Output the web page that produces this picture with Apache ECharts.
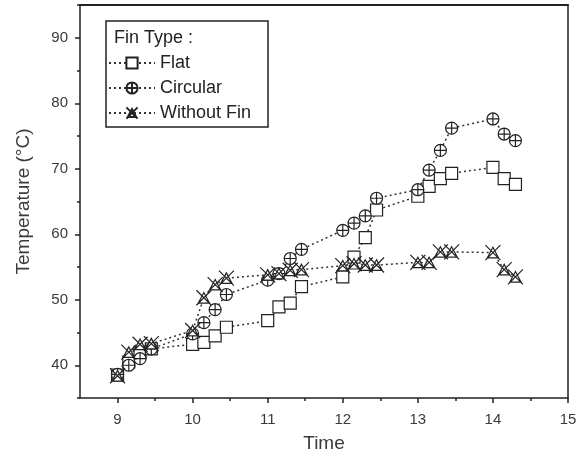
<!DOCTYPE html>
<html>
<head>
<meta charset="utf-8">
<script src="https://cdn.jsdelivr.net/npm/echarts@6/dist/echarts.min.js"></script>
<style>html,body{margin:0;padding:0;background:#fff}#c{width:584px;height:459px}</style>
</head>
<body>
<div id="c"></div>
<script>
// ---- data ----
const seriesNames = ['Flat', 'Circular', 'Without Fin'];
const flatData = [[9.0,38.5],[9.15,40.5],[9.3,42],[9.45,42.5],[10.0,43.2],[10.15,43.5],[10.3,44.5],[10.45,45.8],[11.0,46.8],[11.15,48.9],[11.3,49.5],[11.45,52],[12.0,53.5],[12.15,56.5],[12.3,59.5],[12.45,63.7],[13.0,65.8],[13.15,67.3],[13.3,68.5],[13.45,69.3],[14.0,70.2],[14.15,68.5],[14.3,67.6]];
const circularData = [[9.0,38.6],[9.15,40],[9.3,41],[9.45,42.5],[10.0,44.8],[10.15,46.5],[10.3,48.5],[10.45,50.8],[11.0,53],[11.15,54],[11.3,56.3],[11.45,57.7],[12.0,60.6],[12.15,61.7],[12.3,62.8],[12.45,65.5],[13.0,66.8],[13.15,69.8],[13.3,72.8],[13.45,76.2],[14.0,77.6],[14.15,75.3],[14.3,74.3]];
const withoutFinData = [[9.0,38.4],[9.15,42],[9.3,43.2],[9.45,43.3],[10.0,45.3],[10.15,50.3],[10.3,52.3],[10.45,53.3],[11.0,53.8],[11.15,54],[11.3,54.5],[11.45,54.6],[12.0,55.2],[12.15,55.5],[12.3,55.3],[12.45,55.3],[13.0,55.7],[13.15,55.7],[13.3,57.3],[13.45,57.3],[14.0,57.2],[14.15,54.6],[14.3,53.5]];
const xMajorTicks = [9, 10, 11, 12, 13, 14, 15];
const xMinorTicks = [9.5, 10.5, 11.5, 12.5, 13.5, 14.5];
const yMajorTicks = [40, 50, 60, 70, 80, 90];
const yMinorTicks = [35, 45, 55, 65, 75, 85, 95];

const FONT = 'Liberation Sans, Arial, sans-serif';
const INK = '#222';
const TXT = '#3a3a3a';
const symCircleCross = 'path://M-10,0 A10,10 0 1,0 10,0 A10,10 0 1,0 -10,0 Z M-10,0 L10,0 M0,-10 L0,10';
const symTriX = 'path://M0,-7 L-7.5,7 L7.5,7 Z M-10,-10 L10,10 M10,-10 L-10,10';

function mkSeries(name, data, symbol, size) {
  return {
    name: name, type: 'line', data: data,
    symbol: symbol, symbolSize: size,
    showAllSymbol: true,
    lineStyle: { color: '#333', width: 1.5, type: [2, 3] },
    itemStyle: { color: '#fff', borderColor: INK, borderWidth: 1.2 },
    emphasis: { disabled: true },
    animation: false, z: 3
  };
}

const chart = echarts.init(document.getElementById('c'), null, { renderer: 'canvas' });
chart.setOption({
  animation: false,
  backgroundColor: '#fff',
  title: {
    text: 'Fin Type :', left: 109, top: 24,
    textStyle: { fontFamily: FONT, fontSize: 18, fontWeight: 'normal', color: INK }
  },
  legend: {
    orient: 'vertical', left: 106, top: 21,
    padding: [33, 17, 5, 2],
    borderColor: INK, borderWidth: 1.5,
    backgroundColor: '#fff',
    itemWidth: 46, itemHeight: 14, itemGap: 7,
    textStyle: { fontFamily: FONT, fontSize: 18, color: INK },
    data: seriesNames
  },
  grid: { left: 80, right: 16, top: 5, bottom: 61, containLabel: false },
  xAxis: [
    {
      type: 'value', position: 'bottom', min: 8.5, max: 15,
      name: 'Time', nameLocation: 'middle', nameGap: 36,
      nameTextStyle: { fontFamily: FONT, fontSize: 19, color: TXT },
      axisLine: { show: true, lineStyle: { color: INK, width: 1.5 } },
      axisTick: { show: true, inside: false, length: 5, customValues: xMajorTicks, lineStyle: { color: INK, width: 1.5 } },
      axisLabel: { show: true, margin: 14, customValues: xMajorTicks, fontFamily: FONT, fontSize: 15, color: TXT },
      splitLine: { show: false }
    },
    {
      type: 'value', position: 'bottom', min: 8.5, max: 15,
      axisLine: { show: false },
      axisTick: { show: true, length: 3, customValues: xMinorTicks, lineStyle: { color: INK, width: 1.5 } },
      axisLabel: { show: false },
      splitLine: { show: false }
    },
    {
      type: 'value', position: 'top', min: 8.5, max: 15,
      axisLine: { show: true, onZero: false, lineStyle: { color: INK, width: 2 } },
      axisTick: { show: false }, axisLabel: { show: false }, splitLine: { show: false }
    }
  ],
  yAxis: [
    {
      type: 'value', position: 'left', min: 35, max: 95,
      name: 'Temperature (°C)', nameLocation: 'middle', nameGap: 47, nameRotate: 90,
      nameTextStyle: { fontFamily: FONT, fontSize: 19, color: TXT },
      axisLine: { show: true, onZero: false, lineStyle: { color: INK, width: 1.5 } },
      axisTick: { show: true, length: 5, customValues: yMajorTicks, lineStyle: { color: INK, width: 1.5 } },
      axisLabel: { show: true, margin: 12, customValues: yMajorTicks, fontFamily: FONT, fontSize: 15, color: TXT },
      splitLine: { show: false }
    },
    {
      type: 'value', position: 'left', min: 35, max: 95,
      axisLine: { show: false },
      axisTick: { show: true, length: 3, customValues: yMinorTicks, lineStyle: { color: INK, width: 1.5 } },
      axisLabel: { show: false },
      splitLine: { show: false }
    },
    {
      type: 'value', position: 'right', min: 35, max: 95,
      axisLine: { show: true, onZero: false, lineStyle: { color: INK, width: 1.5 } },
      axisTick: { show: false }, axisLabel: { show: false }, splitLine: { show: false }
    }
  ],
  series: [
    mkSeries(seriesNames[0], flatData, 'rect', 12),
    mkSeries(seriesNames[1], circularData, symCircleCross, 12),
    mkSeries(seriesNames[2], withoutFinData, symTriX, 15)
  ]
});
</script>
</body>
</html>
